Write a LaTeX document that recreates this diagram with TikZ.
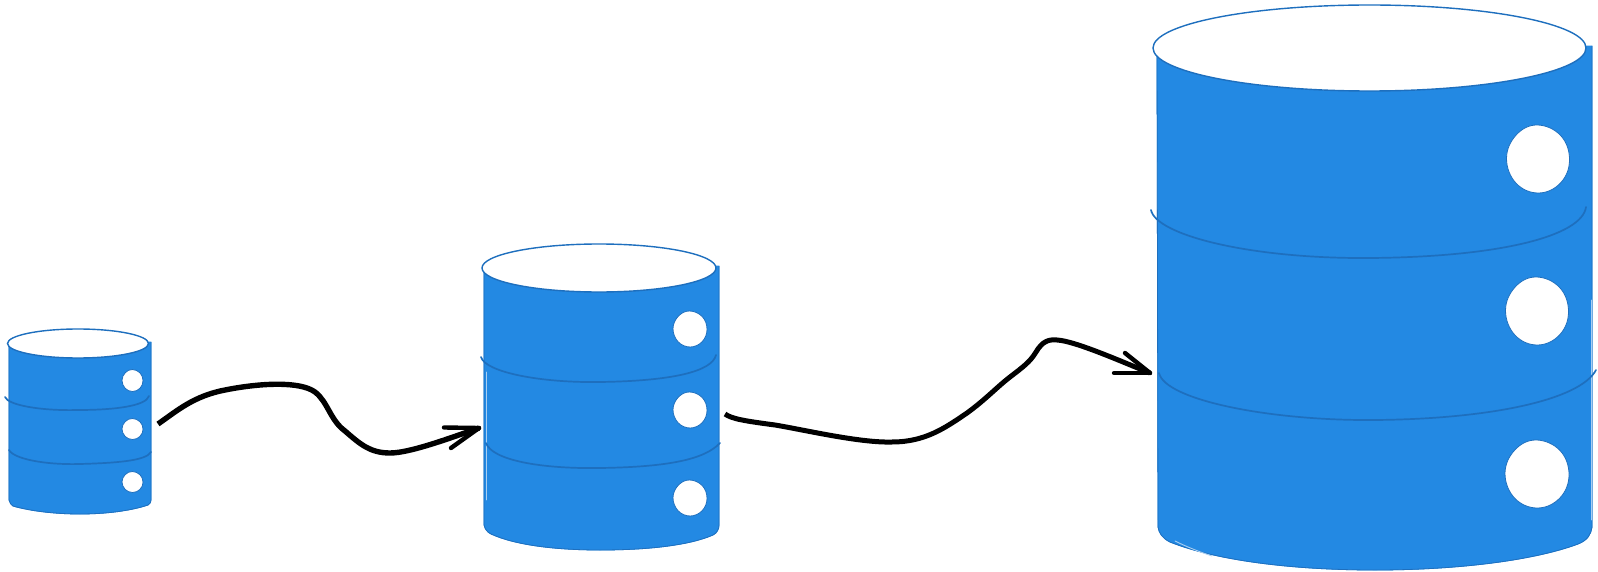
\documentclass[tikz,border=0pt]{standalone}
\definecolor{dbblue}{HTML}{2389E3}
\definecolor{dbedge}{HTML}{1E6FBE}
\definecolor{dbpale}{HTML}{A9CFF2}
\tikzset{
  body/.style={fill=dbblue,draw=dbblue,line width=0.8pt,line join=round},
  lid/.style={fill=white,draw=dbedge,line width=1.4pt},
  sketchline/.style={draw=dbedge,line width=0.8pt},
  band/.style={draw=dbedge,line width=1.7pt,line cap=round},
  pale/.style={draw=dbpale,line width=0.9pt,line cap=round},
  holefill/.style={fill=white,draw=dbedge,line width=0.8pt},
  wire/.style={draw=black,line width=5pt,line cap=butt,line join=round},
  wirehead/.style={draw=black,line width=4.4pt,line cap=round}
}
\newcommand{\dbhole}[4]{%
  \draw[holefill] plot[smooth cycle,tension=0.68] coordinates {
    ({#1+1.00*#3},{#2+0.02*#4}) ({#1+0.72*#3},{#2+0.70*#4}) ({#1+0.02*#3},{#2+1.00*#4})
    ({#1-0.70*#3},{#2+0.71*#4}) ({#1-1.00*#3},{#2-0.02*#4}) ({#1-0.69*#3},{#2-0.71*#4})
    ({#1-0.02*#3},{#2-1.00*#4}) ({#1+0.72*#3},{#2-0.69*#4})};
}
\begin{document}
\begin{tikzpicture}[x=1pt,y=-1pt]
\useasboundingbox (0,0) rectangle (1598,572);

% small database
\path[body] (9,344) -- (9,500) .. controls (10,503) and (11,505) .. (13,506)
  .. controls (30,511) and (55,514) .. (80,514)
  .. controls (105,514) and (130,511) .. (148,505)
  .. controls (150,504) and (151,502) .. (151,500) -- (151,342) -- cycle;
\draw[sketchline] (9,346) -- (9,500) .. controls (10,503) and (11,505) .. (13,506)
  .. controls (30,511) and (55,514) .. (80,514)
  .. controls (105,514) and (130,511) .. (148,505)
  .. controls (150,504) and (151,502) .. (151,500) -- (151,342);
\draw[lid] (78,343.5) ellipse (70.5 and 14.5);
\draw[band] (5,397) .. controls (8,405) and (40,411) .. (78,410)
  .. controls (115,410) and (146,406) .. (149,396);
\draw[band] (9,450) .. controls (14,459) and (45,465) .. (80,464)
  .. controls (115,463) and (146,461) .. (151,452);
\dbhole{132.5}{380.5}{10.5}{11}
\dbhole{132.5}{429}{10.5}{10.5}
\dbhole{132.5}{482}{10.5}{10.5}

% medium database
\path[body] (484,270) -- (484,525) .. controls (485,529) and (487,532) .. (491,534)
  .. controls (515,545) and (555,550) .. (600,550)
  .. controls (650,550) and (690,545) .. (713,535)
  .. controls (717,533) and (719,529) .. (719,525) -- (719,266) -- cycle;
\draw[sketchline] (484,270) -- (484,525) .. controls (485,529) and (487,532) .. (491,534)
  .. controls (515,545) and (555,550) .. (600,550)
  .. controls (650,550) and (690,545) .. (713,535)
  .. controls (717,533) and (719,529) .. (719,525) -- (719,266);
\draw[pale] (486,372) -- (486,500);
\draw[lid] (599,268) ellipse (117 and 24);
\draw[band] (481,357) .. controls (485,372) and (540,383) .. (600,382)
  .. controls (670,381) and (712,372) .. (716,355);
\draw[band] (486,443) .. controls (492,460) and (540,469) .. (600,468)
  .. controls (670,467) and (705,459) .. (720,443);
\dbhole{690}{329}{17}{18}
\dbhole{690}{410}{17}{18}
\dbhole{690}{498}{17}{18}

% large database
\path[body] (1157,50) -- (1158,527) .. controls (1159,533) and (1162,538) .. (1170,542)
  .. controls (1215,560) and (1290,570) .. (1375,570)
  .. controls (1460,570) and (1535,560) .. (1578,544)
  .. controls (1588,540) and (1591,534) .. (1592,527) -- (1592,46) -- cycle;
\draw[sketchline] (1157,50) -- (1158,527) .. controls (1159,533) and (1162,538) .. (1170,542)
  .. controls (1215,560) and (1290,570) .. (1375,570)
  .. controls (1460,570) and (1535,560) .. (1578,544)
  .. controls (1588,540) and (1591,534) .. (1592,527) -- (1592,46);
\draw[pale] (1591,300) -- (1591,520);
\draw[pale] (1175,541) .. controls (1185,546) and (1197,551) .. (1212,556);
\draw[lid] (1369.5,48) ellipse (216.5 and 43);
\draw[band] (1151,210) .. controls (1156,235) and (1250,259) .. (1370,258)
  .. controls (1500,257) and (1582,236) .. (1586,207);
\draw[band] (1159,373) .. controls (1165,400) and (1270,421) .. (1375,420)
  .. controls (1490,419) and (1580,400) .. (1596,370);
\dbhole{1538}{159}{31.5}{34}
\dbhole{1537}{311}{31.5}{34}
\dbhole{1537}{474}{32}{34}

% connectors
\coordinate (small out) at (158,424);
\coordinate (medium in) at (479,428);
\coordinate (medium out) at (725,414);
\coordinate (large in) at (1150,373);

\draw[wire,line width=5.4pt] (small out) .. controls (178,410) and (194,396) .. (225,390)
  .. controls (260,383) and (300,381) .. (315,392)
  .. controls (328,402) and (330,420) .. (345,431)
  .. controls (360,444) and (370,453) .. (390,453)
  .. controls (410,453) and (450,438) .. (medium in);
\draw[wirehead] (444,427.5) -- (medium in);
\draw[wirehead] (451,448) -- (medium in);

\draw[wire] (medium out) .. controls (732,419) and (745,421) .. (775,425)
  .. controls (805,430) and (860,443) .. (892,442)
  .. controls (925,442) and (945,428) .. (967,413)
  .. controls (985,400) and (997,387) .. (1010,377)
  .. controls (1023,367) and (1030,362) .. (1036,352)
  .. controls (1042,342) and (1048,339) .. (1057,340)
  .. controls (1075,341) and (1120,361) .. (large in);
\draw[wirehead] (1114,373) -- (large in);
\draw[wirehead] (1125,353) -- (large in);
\end{tikzpicture}
\end{document}
